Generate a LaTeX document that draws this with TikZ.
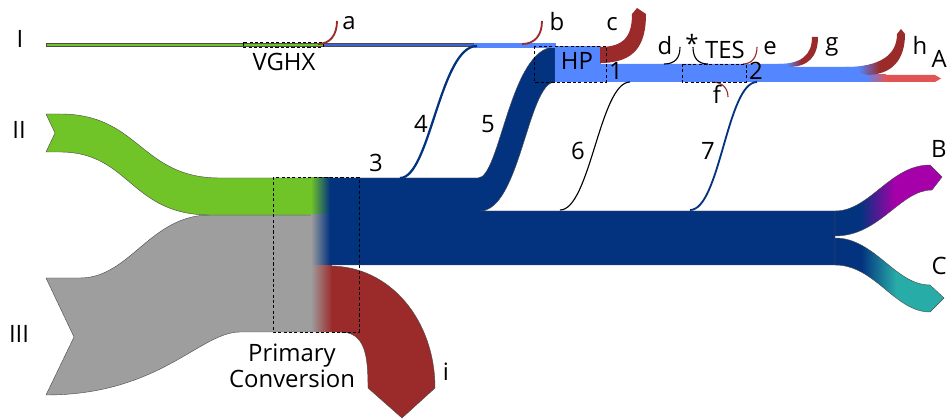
\documentclass[tikz,border=0pt]{standalone}
\usepackage{fontspec}
\setmainfont{Open Sans}
\usepackage{tikz}
\definecolor{sknavy}{RGB}{3,51,127}
\definecolor{skgreen}{RGB}{112,196,40}
\definecolor{skgrey}{RGB}{158,158,158}
\definecolor{skred}{RGB}{155,42,42}
\definecolor{sklight}{RGB}{84,134,255}
\definecolor{skmid}{RGB}{60,100,215}
\definecolor{skA}{RGB}{226,84,84}
\definecolor{skmag}{RGB}{166,0,170}
\definecolor{skteal}{RGB}{40,172,168}
\pgfdeclarehorizontalshading{navymag}{100bp}{color(0bp)=(sknavy); color(37bp)=(sknavy); color(53bp)=(skmag); color(100bp)=(skmag)}
\pgfdeclarehorizontalshading{navyteal}{100bp}{color(0bp)=(sknavy); color(37bp)=(sknavy); color(53bp)=(skteal); color(100bp)=(skteal)}
\pgfdeclarehorizontalshading{lightred}{100bp}{color(0bp)=(sklight); color(36bp)=(sklight); color(54bp)=(skred); color(100bp)=(skred)}

\begin{document}
\begin{tikzpicture}[x=0.025cm,y=-0.025cm,
  every node/.style={font=\fontsize{17}{18.5}\selectfont,inner sep=0pt,anchor=base},
  flow/.style={draw=black!70,line width=0.3pt},
  box/.style={draw=black,line width=0.6pt,dash pattern=on 2.2pt off 1.6pt},
  thinflow/.style={line width=0.8pt}]
\useasboundingbox (0,0) rectangle (948,419);
% inputs II and III
\path[flow,fill=skgrey] (46,278) -- (80,278) .. controls (130,278) and (150,215) .. (210,215) -- (320,215) -- (320,332) -- (240,332) .. controls (200,332) and (160,395) .. (46,395) -- (74,337) -- cycle;
\path[flow,fill=skgreen] (46,114) -- (60,114) .. controls (140,114) and (140,178) .. (220,178) -- (320,178) -- (320,215) -- (210,215) .. controls (130,215) and (130,152) .. (60,152) -- (46,152) -- (55,133) -- cycle;
% main band with branch 5
\path[flow,fill=sknavy] (318,178) -- (478,178) .. controls (500,178) and (510,47) .. (555,47) -- (555,82) .. controls (528,82) and (520,211) .. (480,211) -- (835,211) -- (835,265) -- (318,265) -- cycle;
% losses i
\path[flow,fill=skred] (318,266) -- (330,266) .. controls (390,266) and (435,320) .. (435,388) -- (402,418) -- (368,388) .. controls (368,355) and (365,332) .. (340,332) -- (318,332) -- cycle;
\shade[left color=skgreen,right color=sknavy] (311,178) rectangle (330,215);
\shade[left color=skgrey,right color=sknavy] (311,215) rectangle (330,265);
\shade[left color=skgrey,right color=skred] (311,265.4) rectangle (332,332);
% outputs B and C
\path[flow,shading=navymag] (835,211) .. controls (870,211) and (890,165) .. (930,165) -- (942,177) -- (932,190) .. controls (900,190) and (880,236) .. (835,236) -- cycle;
\path[flow,shading=navyteal] (835,238) .. controls (875,238) and (895,285) .. (930,285) -- (944,298) -- (930,312) .. controls (895,312) and (875,265) .. (835,265) -- cycle;
% stream I
\path[flow,fill=skgreen] (46,43.5) rectangle (323,46.5);
\path[flow,fill=skmid] (323,43.5) rectangle (478,46.5);
\path[fill=sklight] (474,43) rectangle (556,48);
% HP and stream 1
\path[fill=sklight] (555,46) rectangle (601,82);
\path[fill=sklight] (600,64) -- (788,64) -- (790,67) -- (850,67) -- (866,75) -- (872,75) -- (872,82) -- (600,82) -- cycle;
\path[fill=skA] (870,75) -- (935,75) -- (941,78.5) -- (935,82) -- (870,82) -- cycle;
\shade[left color=sklight,right color=skA] (866,75) rectangle (886,82);
\path[shading=lightred] (778,64) .. controls (800,64) and (812,56) .. (812,37) -- (818,37) .. controls (818,57) and (808,67) .. (788,67) -- cycle;
\path[shading=lightred] (845,67) .. controls (880,67) and (897,55) .. (897,34) -- (901,29) -- (905,34) .. controls (905,60) and (892,75) .. (866,75) -- cycle;
\path[fill=skred] (600,47) .. controls (625,47) and (632,35) .. (632,14) -- (637,8) -- (646,14) .. controls (646,45) and (635,63) .. (600,63) -- cycle;
% thin flows
\draw[sknavy,line width=1.6pt] (400,178) .. controls (430,178) and (440,46) .. (477,46);
\draw[black,thinflow] (560,210) .. controls (590,210) and (600,82) .. (630,82);
\draw[sknavy,line width=1.3pt] (690,210) .. controls (720,210) and (727,82) .. (757,82);
\draw[skred,line width=1.3pt] (318,44) .. controls (330,44) and (337,35) .. (337,21);
\draw[skred,line width=1.3pt] (522,44) .. controls (535,44) and (542,35) .. (542,21);
\draw[black,thinflow] (664,64) .. controls (675,64) and (680,58) .. (680,47);
\draw[black,thinflow] (693,47) .. controls (693,58) and (698,64) .. (708,64);
\draw[skred,thinflow] (743,64) .. controls (752,64) and (757,57) .. (757,47);
\draw[skred,thinflow] (712,82) .. controls (722,82) and (728,88) .. (728,97);
% components
\draw[box] (243,42.5) rectangle (323,47.5);
\draw[box] (534,46) rectangle (606,82);
\draw[box] (682,64) rectangle (746,82);
\draw[box] (273,177) rectangle (359,332);
% labels
\node (nI) at (20,48) {I};
\node (nII) at (19,139) {II};
\node (nIII) at (19,343) {III};
\node (vghx) at (284,71) {VGHX};
\node (hp) at (577,70) {HP};
\node (tes) at (725,59) {TES};
\node (pc) [align=center] at (292,388) {Primary\\Conversion};
\node (na) at (349,30) {a};
\node (nb) at (557,31) {b};
\node (nc) at (612,31) {c};
\node (nd) at (665,55) {d};
\node (nstar) at (692,53) {*};
\node (ne) at (770,55) {e};
\node (nf) at (717,104) {f};
\node (ng) at (832,51) {g};
\node (nh) at (920,55) {h};
\node (ni) at (446,380) {i};
\node (nA) [anchor=base east] at (947,68) {A};
\node (nB) [anchor=base east] at (947,158) {B};
\node (nC) [anchor=base east] at (947,275) {C};
\node (n1) at (616,80) {1};
\node (n2) at (756,80) {2};
\node (n3) at (376,172) {3};
\node (n4) at (421,133) {4};
\node (n5) at (488,133) {5};
\node (n6) at (578,160) {6};
\node (n7) at (708,160) {7};
\end{tikzpicture}
\end{document}
